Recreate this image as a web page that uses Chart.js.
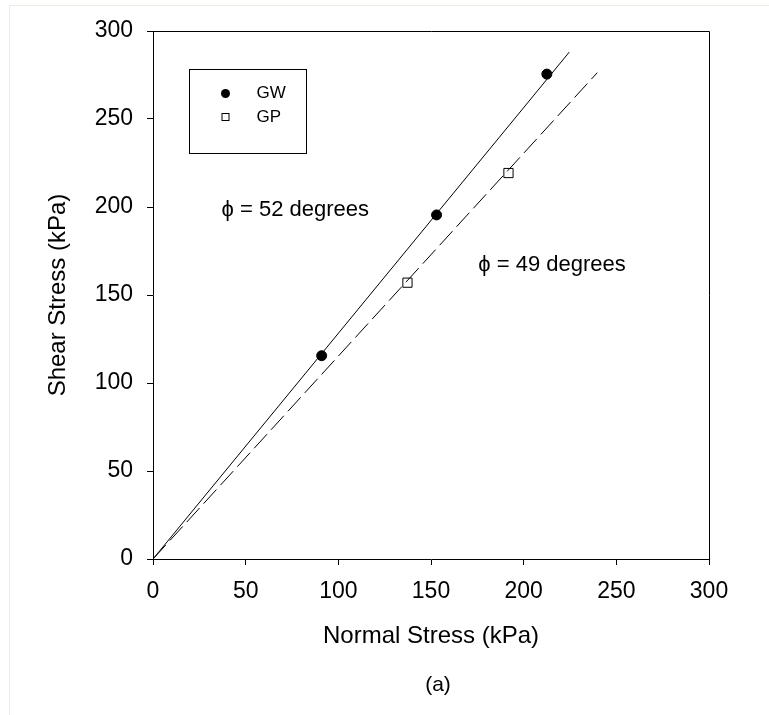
<!DOCTYPE html>
<html>
<head>
<meta charset="utf-8">
<script src="https://cdn.jsdelivr.net/npm/chart.js@4/dist/chart.umd.min.js"></script>
<style>
  body { margin: 0; background: #fff; }
  #wrap { position: relative; width: 769px; height: 715px; }
  #frame { position: absolute; left: 9px; top: 5px; right: 0; bottom: 0;
           border-left: 1px solid #efebe2; border-top: 1px solid #efebe2; }
  #caption { position: absolute; left: 388px; width: 100px; top: 672px; text-align: center;
             font: 21px "Liberation Sans", Arial, sans-serif; color: #000; }
</style>
</head>
<body>
<div id="wrap">
  <div id="frame"></div>
  <canvas id="grafico" width="769" height="715"></canvas>
  <div id="caption">(a)</div>
</div>
<script>
// dados
const gwNormal = [91, 153, 212.5];
const gwShear = [115.5, 195.5, 275.5];
const gpNormal = [137.3, 191.8];
const gpShear = [157, 219.3];

// envoltórias (linhas de ruptura)
const linhaGW = [[0, 0], [224.6, 288]];
const linhaGP = [[0, 0], [239.7, 276.3]];

const eixoTicks = [0, 50, 100, 150, 200, 250, 300];

const anotacoes = [
    { texto: '\u03D5 = 52 degrees', x: 37, y: 198.5 },
    { texto: '\u03D5 = 49 degrees', x: 175.5, y: 166.8 }
];

const legendaItens = [
    { nome: 'GW', estilo: 'circle' },
    { nome: 'GP', estilo: 'rect' }
];

const fonte = '"Liberation Sans", Arial, "DejaVu Sans", sans-serif';

function pares(xs, ys) {
    return xs.map((x, i) => ({ x: x, y: ys[i] }));
}

// moldura do gráfico, anotações e legenda
const extras = {
    id: 'extras',
    afterDraw(chart) {
        const ctx = chart.ctx;
        const a = chart.chartArea;
        const sx = chart.scales.x;
        const sy = chart.scales.y;
        ctx.save();
        ctx.strokeStyle = '#000';
        ctx.lineWidth = 1;
        ctx.beginPath();
        ctx.moveTo(a.left, a.top + 0.5);
        ctx.lineTo(a.right + 0.5, a.top + 0.5);
        ctx.lineTo(a.right + 0.5, a.bottom);
        ctx.stroke();

        ctx.fillStyle = '#000';
        ctx.font = '22px ' + fonte;
        ctx.textBaseline = 'middle';
        anotacoes.forEach(an => {
            ctx.fillText(an.texto, sx.getPixelForValue(an.x), sy.getPixelForValue(an.y));
        });

        // legenda
        const lx = a.left + 36.5, ly = a.top + 38.5;
        ctx.strokeRect(lx, ly, 117, 84);
        ctx.font = '17px ' + fonte;
        legendaItens.forEach((it, i) => {
            const cy = ly + 24 + i * 23.5;
            const cx = lx + 36;
            if (it.estilo === 'circle') {
                ctx.beginPath();
                ctx.arc(cx, cy, 4.5, 0, Math.PI * 2);
                ctx.fill();
            } else {
                ctx.strokeRect(cx - 3.5, cy - 3.5, 7, 7);
            }
            ctx.fillText(it.nome, lx + 67, cy);
        });
        ctx.restore();
    }
};

const ctx = document.getElementById('grafico').getContext('2d');
new Chart(ctx, {
    type: 'scatter',
    data: {
        datasets: [
            {
                label: 'GW fit',
                data: linhaGW.map(p => ({ x: p[0], y: p[1] })),
                showLine: true,
                borderColor: '#000',
                borderWidth: 1,
                pointRadius: 0
            },
            {
                label: 'GP fit',
                data: linhaGP.map(p => ({ x: p[0], y: p[1] })),
                showLine: true,
                borderColor: '#000',
                borderWidth: 1,
                borderDash: [19, 6],
                pointRadius: 0
            },
            {
                label: 'GW',
                data: pares(gwNormal, gwShear),
                pointStyle: 'circle',
                pointRadius: 5,
                backgroundColor: '#000',
                borderColor: '#000'
            },
            {
                label: 'GP',
                data: pares(gpNormal, gpShear),
                pointStyle: 'rect',
                pointRadius: 6.5,
                backgroundColor: '#fff',
                borderColor: '#000',
                borderWidth: 1
            }
        ]
    },
    options: {
        responsive: false,
        animation: false,
        events: [],
        layout: { padding: { left: 0, top: 31, right: 60, bottom: 46 } },
        plugins: {
            legend: { display: false },
            tooltip: { enabled: false }
        },
        scales: {
            x: {
                type: 'linear',
                min: 0,
                max: 300,
                afterBuildTicks: s => { s.ticks = eixoTicks.map(v => ({ value: v })); },
                afterFit: s => { s.height = 110; },
                grid: { drawOnChartArea: false, tickLength: 6, tickColor: '#000' },
                border: { color: '#000', width: 1 },
                ticks: { color: '#000', font: { family: fonte, size: 23 }, padding: 13, maxRotation: 0 },
                title: {
                    display: true,
                    text: 'Normal Stress (kPa)',
                    color: '#000',
                    font: { family: fonte, size: 24 },
                    padding: { top: 0, bottom: 18.6 }
                }
            },
            y: {
                type: 'linear',
                min: 0,
                max: 300,
                afterBuildTicks: s => { s.ticks = eixoTicks.map(v => ({ value: v })); },
                afterFit: s => { s.width = 153; },
                grid: { drawOnChartArea: false, tickLength: 6, tickColor: '#000' },
                border: { color: '#000', width: 1 },
                ticks: { color: '#000', font: { family: fonte, size: 23 }, padding: 14 },
                title: {
                    display: true,
                    text: 'Shear Stress (kPa)',
                    color: '#000',
                    font: { family: fonte, size: 24 },
                    padding: { top: 43.6, bottom: 0 }
                }
            }
        }
    },
    plugins: [extras]
});
</script>
</body>
</html>
